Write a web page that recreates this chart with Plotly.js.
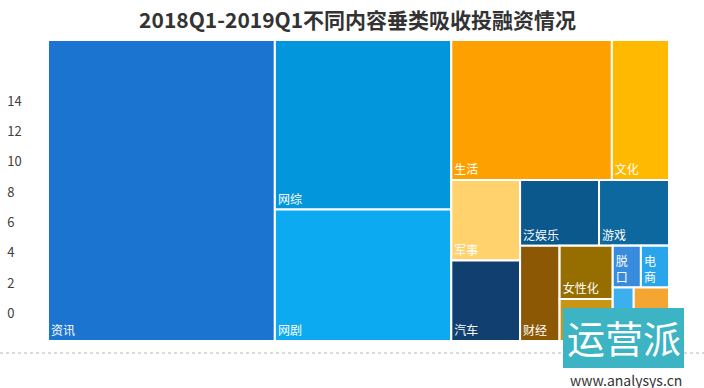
<!DOCTYPE html>
<html><head><meta charset="utf-8">
<script src="https://cdn.plot.ly/plotly-3.0.1.min.js"></script>
<style>html,body{margin:0;padding:0;background:#fff;} #chart{width:704px;height:388px;}</style>
</head><body><div id="chart"></div>
<script>
// ---- data ----
const ids      = ['资讯','组1','网综','网剧','组2','组2a','生活','文化','组3','组3a','军事','汽车','组4','组4a','泛娱乐','游戏','组5','财经','组5a','女性化','其他1','组6','组6a','脱口','电商','组7','其他2','体育'];
const labels   = ['资讯','','网综','网剧','','','生活','文化','','','军事','汽车','','','泛娱乐','游戏','','财经','','女性化','其他','','','脱口','电商','','其他','体育'];
const parents  = ['','','组1','组1','','组2','组2a','组2a','组2','组3','组3a','组3a','组3','组4','组4a','组4a','组4','组5','组5','组5a','组5a','组5','组6','组6a','组6a','组6','组7','组7'];
const values   = [58,0,25.4,19.7,0,0,19.1,6.8,0,0,4.7,4.7,0,0,4.4,3.9,0,3.2,0,2.4,1.9,0,0,1.0,1.0,0,0.95,1.6];
const tileText = ['资讯','','网综','网剧','','','生活','文化','','','军事','汽车','','','泛娱乐','游戏','','财经','','女性化','','','','脱<br>口','电<br>商','','','体育'];
const yTicks   = [0,2,4,6,8,10,12,14];
const titleText = '2018Q1-2019Q1不同内容垂类吸收投融资情况';

// ---- styles ----
const colorMap = {
  '资讯':'#1b75d0','网综':'#0296dc','网剧':'#0caaf0','生活':'#fea000','文化':'#ffba00',
  '军事':'#ffd26e','汽车':'#103f70','泛娱乐':'#0a588c','游戏':'#0e68a0','财经':'#8c5804',
  '女性化':'#966e00','其他1':'#c89614','脱口':'#388cde','电商':'#28a5eb','其他2':'#3cafef','体育':'#f5a532'
};
const W = 704, H = 388;
const FONT = 'Noto Sans CJK SC, Noto Sans, sans-serif';

const treemap = {
  type:'treemap', ids:ids, labels:labels, parents:parents, values:values,
  branchvalues:'remainder', sort:false,
  text:tileText, textinfo:'text', textposition:'bottom left',
  textfont:{family:FONT, size:12, color:'#ffffff'},
  marker:{colors:ids.map(id => colorMap[id] || '#ffffff'), line:{color:'#ffffff', width:2}, pad:{t:0,l:0,r:0,b:0}},
  tiling:{packing:'slice-dice', pad:0},
  pathbar:{visible:false},
  domain:{x:[48/W, 669/W], y:[1-341/H, 1-40/H]},
  hoverinfo:'label+value'
};
const axisTrace = {type:'scatter', x:[], y:[], mode:'markers', showlegend:false, hoverinfo:'skip'};

const layout = {
  width:W, height:H, paper_bgcolor:'#ffffff', plot_bgcolor:'rgba(0,0,0,0)',
  margin:{l:0,r:0,t:0,b:0},
  showlegend:false,
  font:{family:FONT},
  title:{text:titleText, font:{family:FONT, size:21, color:'#333333', weight:'bold'},
         x:0.508, xanchor:'center', xref:'paper', y:1-21/H, yanchor:'middle', yref:'container'},
  xaxis:{visible:false, range:[0,1], domain:[0.006,1]},
  yaxis:{range:[-4.924, 20.658], tickvals:yTicks, ticktext:yTicks.map(String),
         showgrid:false, zeroline:false, showline:false, ticks:'',
         ticklabelposition:'inside', tickfont:{family:FONT, size:13, color:'#404040'}},
  shapes:[
    {type:'line', xref:'paper', yref:'paper', x0:0, x1:1, y0:1-353/H, y1:1-353/H,
     line:{color:'#b4b4b4', width:1, dash:'dot'}, layer:'below'},
    {type:'rect', xref:'paper', yref:'paper', x0:563/W, x1:684/W, y0:1-368/H, y1:1-308/H,
     fillcolor:'#3cb4c3', line:{width:0}, layer:'above'}
  ],
  annotations:[
    {text:'运营派', xref:'paper', yref:'paper', x:624/W, y:1-336/H, showarrow:false,
     font:{family:FONT, size:38, color:'#ffffff'}, xanchor:'center', yanchor:'middle'},
    {text:'www.analysys.cn', xref:'paper', yref:'paper', x:626/W, y:1-380/H, showarrow:false,
     font:{family:FONT, size:14, color:'#333333'}, xanchor:'center', yanchor:'middle'}
  ]
};

Plotly.newPlot('chart', [axisTrace, treemap], layout, {displayModeBar:false, staticPlot:true});
</script>
</body></html>
